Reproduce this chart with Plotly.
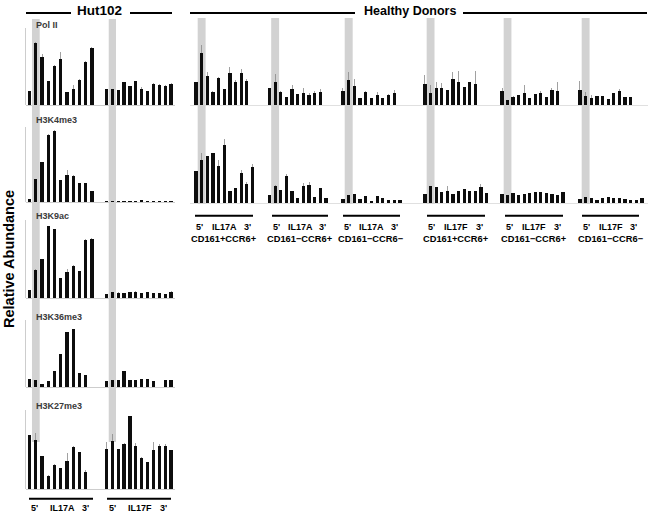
import plotly.graph_objects as go

W, H = 651, 515

# ---------------- DATA (relative abundance, arbitrary units) ----------------
# Hut102 cell line: IL17A (11 amplicons) and IL17F (12 amplicons), 5' -> 3'
hut_polii_il17a = [14, 62, 48, 24, 39, 46, 13, 16, 25, 43, 57]
hut_polii_il17a_err = [0, 1, 3, 0, 1, 7, 0, 4, 1, 1, 1]
hut_polii_il17f = [16, 16, 15, 23, 19, 24, 16, 14, 21, 20, 19, 21]
hut_polii_il17f_err = [0, 0, 0, 0, 0, 0, 2, 0, 1, 1, 1, 1]

hut_h3k4_il17a = [3, 23, 40, 67, 71, 22, 27, 26, 19, 19, 11]
hut_h3k4_il17a_err = [0, 0, 0, 1, 1, 0, 5, 1, 0, 0, 0]
hut_h3k4_il17f = [1.5, 1.5, 1.5, 1.5, 1.5, 1.5, 2.5, 1.5, 1.5, 1.5, 1.0, 1.5]
hut_h3k4_il17f_err = [0] * 12

hut_h3k9_il17a = [8, 28, 39, 72, 69, 20, 26, 32, 27, 58, 59]
hut_h3k9_il17a_err = [0, 1, 0, 0, 0, 0, 3, 1, 0, 1, 1]
hut_h3k9_il17f = [4.3, 5.7, 5, 5.3, 5.7, 6.3, 5.3, 6, 4.7, 5, 3.7, 6.3]
hut_h3k9_il17f_err = [0, 0, 1, 0, 0, 1, 0, 0, 0, 0, 0, 1]

hut_h3k36_il17a = [7.7, 6.7, 3.3, 6, 16, 33, 55, 58, 14, 12, None]
hut_h3k36_il17a_err = [0] * 11
hut_h3k36_il17f = [6, 7.3, 7.3, 15.7, 6.7, 6.7, 7.7, 8.3, 6, None, 6.7, 7.3]
hut_h3k36_il17f_err = [0] * 12

hut_h3k27_il17a = [54, 49, 33, 13, 24, 21, 28, 42, 37, 17, None]
hut_h3k27_il17a_err = [0, 7, 0, 1, 1, 0, 8, 1, 0, 2, 0]
hut_h3k27_il17f = [40, 48, 40, 45, 73, 43, 31, 27, 39, 43, 43, 39]
hut_h3k27_il17f_err = [7, 7, 0, 1, 0, 3, 1, 0, 8, 2, 2, 0]

# Healthy donors, Pol II (3 subsets x IL17A, then 3 subsets x IL17F)
hd_polii_1 = [23, 52, 29, 13, 27, 16, 32, 23, 32, 24, None]
hd_polii_1_err = [0, 8, 4, 1, 1, 0, 6, 2, 4, 2, 0]
hd_polii_2 = [17, 23, 13, 8, 16, 11, 12, 10, 12, 13, None]
hd_polii_2_err = [0, 8, 1, 0, 4, 0, 5, 2, 2, 3, 0]
hd_polii_3 = [14, 25, 19, 7, 13, 7, 10, 7, 10, 12, None]
hd_polii_3_err = [3, 8, 7, 0, 1, 0, 3, 0, 1, 3, 0]
hd_polii_4 = [21, 12, 17, 17, 15, 26, 23, 18, 23, 21, None, None]
hd_polii_4_err = [9, 8, 6, 5, 0, 7, 11, 0, 0, 13, 0, 0]
hd_polii_5 = [14, 5, 8, 10, 12, 7, 11, 12, 8, 15, 14, None]
hd_polii_5_err = [3, 0, 1, 0, 8, 0, 0, 2, 0, 2, 9, 0]
hd_polii_6 = [15, 9, 7, 9, 9, 6, 12, 14, 8, 8, None, None]
hd_polii_6_err = [9, 4, 3, 0, 0, 0, 0, 2, 0, 0, 0, 0]

# Healthy donors, H3K4me3
hd_h3k4_1 = [32, 43, 47, 50, 37, 58, 12, 15, 30, 19, 36]
hd_h3k4_1_err = [0, 7, 0, 0, 6, 6, 0, 0, 3, 2, 3]
hd_h3k4_2 = [8, 17, 13, 27, 12, 5, 17, 18, 6, 15, 5]
hd_h3k4_2_err = [0, 1, 0, 2, 0, 0, 3, 3, 0, 0, 0]
hd_h3k4_3 = [4, 8, 9, 4, 7, 2, 7, 5, 3, 3, 3]
hd_h3k4_3_err = [0] * 11
hd_h3k4_4 = [9, 17, 16, 11, 12, 9, 12, 14, 12, 12, 16, 10]
hd_h3k4_4_err = [0, 0, 0, 0, 5, 0, 0, 0, 0, 0, 3, 0]
hd_h3k4_5 = [9, 8, 10, 8, 9, 10, 11, 11, 10, 9, 8, 11]
hd_h3k4_5_err = [0] * 12
hd_h3k4_6 = [4, 6, 5, 3, 5, 6, 5, 5, 4, 3, 3, 5]
hd_h3k4_6_err = [0] * 12

# Labels
hut_marks = ["Pol II", "H3K4me3", "H3K9ac", "H3K36me3", "H3K27me3"]
hut_genes = ["IL17A", "IL17F"]
hd_genes = ["IL17A", "IL17A", "IL17A", "IL17F", "IL17F", "IL17F"]
hd_subsets = ["CD161+CCR6+", "CD161\u2212CCR6+", "CD161\u2212CCR6\u2212",
              "CD161+CCR6+", "CD161\u2212CCR6+", "CD161\u2212CCR6\u2212"]

# ---------------- LAYOUT ----------------
FONT = "Liberation Sans, Arial, sans-serif"
BAR_PX = 3.2
GREY_BAND = "#d2d2d2"
AXIS_GREY = "#cdcdcd"

fig = go.Figure()
shapes, annotations, layout_axes = [], [], {}
_n = [0]


def px_x(p):
    return p / W


def px_y(p):
    return 1 - p / H


def new_axes(x0, x1, ytop, ybase, xr, yr, yline=False):
    _n[0] += 1
    n = _n[0]
    sfx = "" if n == 1 else str(n)
    layout_axes["xaxis" + sfx] = dict(
        domain=[px_x(x0), px_x(x1)], range=xr, anchor="y" + sfx,
        showgrid=False, zeroline=False, showticklabels=False, ticks="",
        showline=False, fixedrange=True)
    layout_axes["yaxis" + sfx] = dict(
        domain=[px_y(ybase), px_y(ytop)], range=yr, anchor="x" + sfx,
        showgrid=False, zeroline=False, showticklabels=False, ticks="",
        showline=yline, linecolor=AXIS_GREY, linewidth=1, fixedrange=True)
    return "x" + sfx, "y" + sfx


def add_bars(xref, yref, vals, errs, width):
    fig.add_trace(go.Bar(
        x=list(range(len(vals))), y=vals, xaxis=xref, yaxis=yref, width=width,
        marker=dict(color="#0d0d0d", line=dict(width=0)),
        error_y=dict(type="data", symmetric=False, array=errs,
                     arrayminus=[0] * len(errs), color="#8a8a8a",
                     thickness=0.8, width=0),
        showlegend=False, hoverinfo="skip"))


def group_axes(b0, b1, n, top, base, yline=False):
    """b0/b1: pixel centre of first/last bar of a group."""
    s = (b1 - b0) / (n - 1)
    xr, yr = new_axes(b0 - 0.6 * s, b1 + 0.6 * s, top, base,
                      [-0.6, n - 1 + 0.6], [0, base - top], yline=yline)
    return xr, yr, BAR_PX / s


def hline(x0, x1, y, w=2, color="black", layer="above"):
    shapes.append(dict(type="line", xref="paper", yref="paper",
                       x0=px_x(x0), x1=px_x(x1), y0=px_y(y), y1=px_y(y),
                       line=dict(color=color, width=w), layer=layer))


def text(x, y, s, size, anchor="center", color="black", angle=0):
    annotations.append(dict(x=px_x(x), y=px_y(y), xref="paper", yref="paper",
                            text=s, showarrow=False, xanchor=anchor,
                            yanchor="middle", textangle=angle,
                            font=dict(family=FONT, size=size, color=color)))


# ---- Hut102 column ----
hut_rows = [
    (hut_polii_il17a, hut_polii_il17a_err, hut_polii_il17f, hut_polii_il17f_err, 28, 105),
    (hut_h3k4_il17a, hut_h3k4_il17a_err, hut_h3k4_il17f, hut_h3k4_il17f_err, 127, 202),
    (hut_h3k9_il17a, hut_h3k9_il17a_err, hut_h3k9_il17f, hut_h3k9_il17f_err, 220, 298),
    (hut_h3k36_il17a, hut_h3k36_il17a_err, hut_h3k36_il17f, hut_h3k36_il17f_err, 320, 387),
    (hut_h3k27_il17a, hut_h3k27_il17a_err, hut_h3k27_il17f, hut_h3k27_il17f_err, 410, 489),
]
label_y = [25, 120, 216, 317, 406]
HUT_A = (29.6, 92)     # first/last bar centre, IL17A
HUT_F = (106.5, 171)   # first/last bar centre, IL17F
hut_a_x = hut_f_x = None
for (a, ae, f, fe, top, base), mark, ly in zip(hut_rows, hut_marks, label_y):
    xa, ya, wa = group_axes(HUT_A[0], HUT_A[1], len(a), top, base, yline=True)
    add_bars(xa, ya, a, ae, wa)
    xf, yf, wf = group_axes(HUT_F[0], HUT_F[1], len(f), top, base)
    add_bars(xf, yf, f, fe, wf)
    if hut_a_x is None:
        hut_a_x, hut_f_x = xa, xf
    hline(26, 175, base + 0.5, 1, AXIS_GREY, "below")
    text(34, ly, "<b>" + mark + "</b>", 9, anchor="left", color="#3a3a3a")

# Hut102 grey bands (2nd amplicon of each gene)
for xr in (hut_a_x, hut_f_x):
    shapes.append(dict(type="rect", xref=xr, yref="paper",
                       x0=1 - 0.62, x1=1 + 0.62, y0=px_y(442), y1=px_y(19),
                       fillcolor=GREY_BAND, line=dict(width=0), layer="below"))

# ---- Healthy donors ----
hd_bar_px = [(196, 252.5), (269.5, 326), (343, 400),
             (425, 486.5), (502, 563), (580, 642)]
hd_rows = [
    ([hd_polii_1, hd_polii_2, hd_polii_3, hd_polii_4, hd_polii_5, hd_polii_6],
     [hd_polii_1_err, hd_polii_2_err, hd_polii_3_err, hd_polii_4_err, hd_polii_5_err, hd_polii_6_err],
     20, 105),
    ([hd_h3k4_1, hd_h3k4_2, hd_h3k4_3, hd_h3k4_4, hd_h3k4_5, hd_h3k4_6],
     [hd_h3k4_1_err, hd_h3k4_2_err, hd_h3k4_3_err, hd_h3k4_4_err, hd_h3k4_5_err, hd_h3k4_6_err],
     118, 203),
]
hd_first_x = []
for ri, (vals_list, err_list, top, base) in enumerate(hd_rows):
    for (b0, b1), vals, errs in zip(hd_bar_px, vals_list, err_list):
        xr, yr, w = group_axes(b0, b1, len(vals), top, base)
        if ri == 0:
            hd_first_x.append(xr)
        add_bars(xr, yr, vals, errs, w)
    hline(190, 648, base + 0.5, 1, "#e0e0e0", "below")

for xr in hd_first_x:
    shapes.append(dict(type="rect", xref=xr, yref="paper",
                       x0=1 - 0.7, x1=1 + 0.7, y0=px_y(204), y1=px_y(18),
                       fillcolor=GREY_BAND, line=dict(width=0), layer="below"))

# ---- header lines and titles ----
hline(26, 71, 13)
hline(130, 172, 13)
text(99.5, 11, "<b>Hut102</b>", 13.5)
hline(190, 355, 13)
hline(463, 647, 13)
text(409.5, 11, "<b>Healthy Donors</b>", 12.5)

text(9, 259, "<b>Relative Abundance</b>", 14.5, angle=-90)

# Hut102 bottom gene labels
for (g0, g1), gene in zip([(29, 93), (107, 171)], hut_genes):
    hline(g0, g1, 498.7, 2)
    text(g0 + 5, 508, "<b>5'</b>", 9)
    text((g0 + g1) / 2 + 1, 508, "<b>" + gene + "</b>", 9)
    text(g1 - 8, 508, "<b>3'</b>", 9)

# Healthy bottom labels
hd_line_px = [(195, 253), (272, 328), (343, 400), (427, 485), (505, 563), (582, 639)]
for (g0, g1), gene, sub in zip(hd_line_px, hd_genes, hd_subsets):
    hline(g0, g1, 215.7, 2)
    text(g0 + 4, 227, "<b>5'</b>", 9)
    text((g0 + g1) / 2, 227, "<b>" + gene + "</b>", 9)
    text(g1 - 6, 227, "<b>3'</b>", 9)
    text((g0 + g1) / 2, 238.5, "<b>" + sub + "</b>", 9.3)

fig.update_layout(
    width=W, height=H, margin=dict(l=0, r=0, t=0, b=0),
    paper_bgcolor="white", plot_bgcolor="rgba(0,0,0,0)",
    bargap=0, showlegend=False, shapes=shapes, annotations=annotations,
    **layout_axes)

fig.write_html(
    "out.html",
    config={"displayModeBar": False, "staticPlot": True},
    post_script="document.body.style.margin='0';document.body.style.padding='0';"
                "document.documentElement.style.overflow='hidden';")
